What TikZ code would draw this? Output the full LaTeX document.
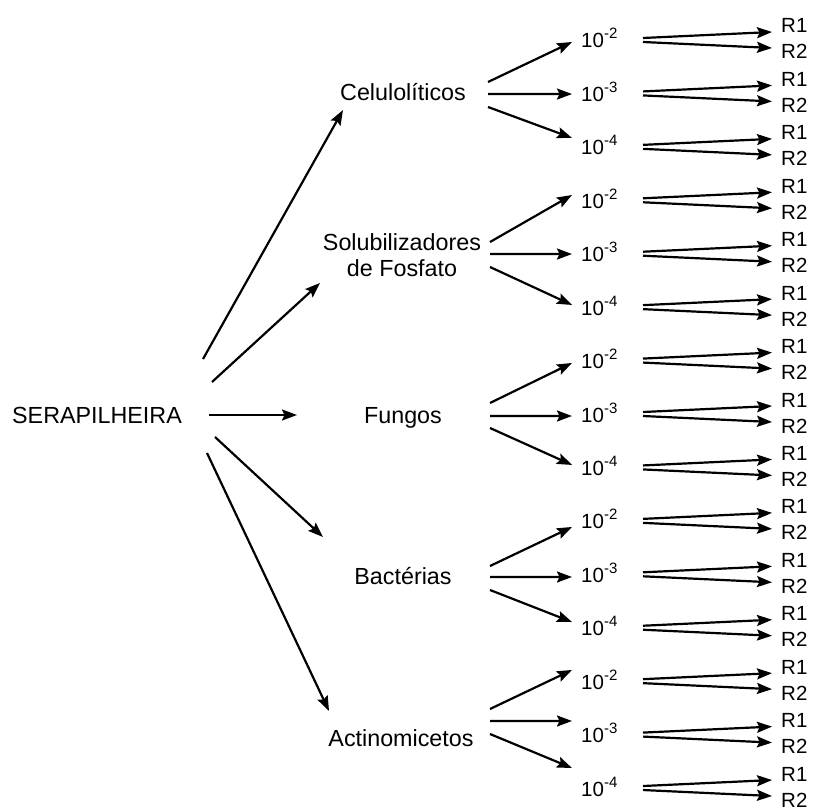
\documentclass[tikz,border=0pt]{standalone}
\usepackage{fontspec}
\setmainfont{Liberation Sans}
\usetikzlibrary{arrows.meta,calc}
\newcommand{\dilsup}[1]{{\fontsize{15}{15}\selectfont\raisebox{9pt}{-#1}}}
\begin{document}
\begin{tikzpicture}[x=1pt,y=-1pt,
  arr/.style={line width=2.2pt,-{Stealth[length=15pt,width=11pt,inset=2.5pt]}},
  main/.style={font=\fontsize{23.3}{26}\selectfont, inner sep=0pt, anchor=base},
  dil/.style={font=\fontsize{20.5}{24}\selectfont, inner sep=0pt, anchor=base west},
  rl/.style={font=\fontsize{20.5}{24}\selectfont, inner sep=0pt, anchor=base west}]
\useasboundingbox (0,0) rectangle (813,810);

% main nodes
\node[main] (ser) at (97,423) {SERAPILHEIRA};
\node[main] (cel) at (403,101) {Celulolíticos};
\node[main, anchor=center, align=center] (sol) at (402,255) {Solubilizadores\\de Fosfato};
\node[main] (fun) at (403,423) {Fungos};
\node[main] (bac) at (403,584) {Bactérias};
\node[main] (act) at (401,746) {Actinomicetos};

% dilution and replicate nodes
\foreach \i/\e in {0/2,1/3,2/4,3/2,4/3,5/4,6/2,7/3,8/4,9/2,10/3,11/4,12/2,13/3,14/4}{
  \pgfmathsetmacro\ym{40+53.43*\i}
  \node[dil] (d\i) at (581,\ym+8) {10\dilsup{\e}};
  \node[rl] (ra\i) at (781,\ym-7) {R1};
  \node[rl] (rb\i) at (781,\ym+19) {R2};
  \draw[arr] ($(d\i.base west)+(62,-10)$) -- ($(ra\i.base west)+(-9,-1)$);
  \draw[arr] ($(d\i.base west)+(62,-6)$) -- ($(rb\i.base west)+(-9,-11)$);
}

% serapilheira to groups
\draw[arr] ($(ser.base)+(106,-64)$) -- ($(cel.base)+(-60,9)$);
\draw[arr] ($(ser.base)+(115,-41)$) -- ($(sol.center)+(-82,28)$);
\draw[arr] ($(ser.base)+(112,-8)$) -- ($(fun.base)+(-106,-8)$);
\draw[arr] ($(ser.base)+(118,14)$) -- ($(bac.base)+(-80,-47)$);
\draw[arr] ($(ser.base)+(110,30)$) -- ($(act.base)+(-72,-35)$);

% groups to dilutions
\draw[arr] ($(cel.base)+(85,-19)$) -- ($(d0.base west)+(-9,-6)$);
\draw[arr] ($(cel.base)+(85,-7)$) -- ($(d1.base west)+(-9,-7.4)$);
\draw[arr] ($(cel.base)+(85,6)$) -- ($(d2.base west)+(-9,-16.9)$);

\draw[arr] ($(sol.center)+(88,-13)$) -- ($(d3.base west)+(-9,-13.3)$);
\draw[arr] ($(sol.center)+(88,-1)$) -- ($(d4.base west)+(-9,-7.7)$);
\draw[arr] ($(sol.center)+(88,12)$) -- ($(d5.base west)+(-9,-10.2)$);

\draw[arr] ($(fun.base)+(87,-20)$) -- ($(d6.base west)+(-9,-5.6)$);
\draw[arr] ($(fun.base)+(87,-7)$) -- ($(d7.base west)+(-9,-6)$);
\draw[arr] ($(fun.base)+(87,5)$) -- ($(d8.base west)+(-9,-10.5)$);

\draw[arr] ($(bac.base)+(87,-18)$) -- ($(d9.base west)+(-9,-1.9)$);
\draw[arr] ($(bac.base)+(87,-7)$) -- ($(d10.base west)+(-9,-5.3)$);
\draw[arr] ($(bac.base)+(87,6)$) -- ($(d11.base west)+(-9,-13.7)$);

\draw[arr] ($(act.base)+(89,-37)$) -- ($(d12.base west)+(-9,-19.2)$);
\draw[arr] ($(act.base)+(89,-25)$) -- ($(d13.base west)+(-9,-21.6)$);
\draw[arr] ($(act.base)+(89,-12)$) -- ($(d14.base west)+(-9,-28)$);
\end{tikzpicture}
\end{document}
